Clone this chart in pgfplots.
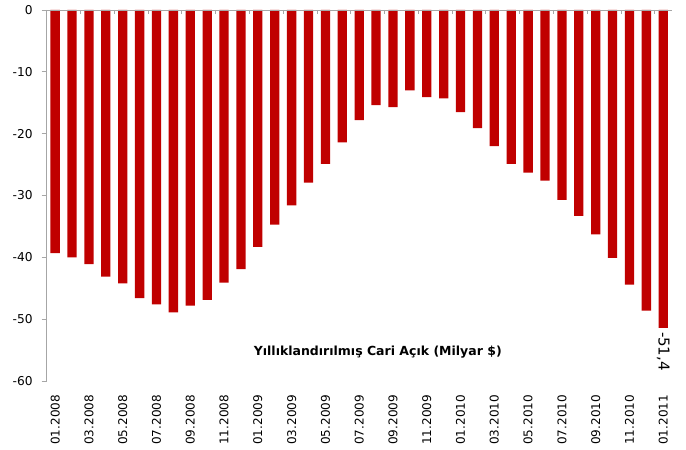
\documentclass[border=0pt]{standalone}
\usepackage{pgfplots}
\usepackage{pgfplotstable}
\pgfplotsset{compat=1.18}
\usepackage{fontspec}
\setmainfont{DejaVu Sans}
\definecolor{barred}{HTML}{C00000}
\definecolor{axgray}{HTML}{A6A6A6}
\pgfplotstableread{
x y lab
0 -39.3 {}
1 -40.0 {}
2 -41.1 {}
3 -43.1 {}
4 -44.2 {}
5 -46.6 {}
6 -47.6 {}
7 -48.9 {}
8 -47.8 {}
9 -46.9 {}
10 -44.1 {}
11 -41.9 {}
12 -38.3 {}
13 -34.7 {}
14 -31.6 {}
15 -27.9 {}
16 -24.9 {}
17 -21.4 {}
18 -17.8 {}
19 -15.4 {}
20 -15.7 {}
21 -13.0 {}
22 -14.1 {}
23 -14.3 {}
24 -16.5 {}
25 -19.1 {}
26 -22.0 {}
27 -24.9 {}
28 -26.3 {}
29 -27.6 {}
30 -30.7 {}
31 -33.3 {}
32 -36.3 {}
33 -40.1 {}
34 -44.4 {}
35 -48.6 {}
36 -51.4 {-51,4}
}\cadata
\pgfplotsset{
  common/.style={
    at={(0,0)}, anchor=south west,
    scale only axis, width=625pt, height=371pt,
    xmin=-0.5, xmax=36.5, ymin=-60, ymax=0,
    axis line style={draw=axgray, line width=0.8pt},
    tick style={draw=axgray, line width=0.8pt},
  }
}
\begin{document}
\begin{tikzpicture}[x=1pt,y=1pt]
\path[use as bounding box] (-46.7,-69) rectangle (639.3,381);
\begin{axis}[
  common,
  axis x line*=bottom, axis y line*=left,
  x axis line style={draw=none},
  tick align=outside,
  major tick length=5pt,
  xtick style={draw=none},
  xtick={0,2,...,36},
  xticklabels={01.2008,03.2008,05.2008,07.2008,09.2008,11.2008,01.2009,03.2009,05.2009,07.2009,09.2009,11.2009,01.2010,03.2010,05.2010,07.2010,09.2010,11.2010,01.2011},
  xticklabel style={rotate=90, anchor=east, font=\fontsize{12}{14}\selectfont},
  xticklabel shift=5.5pt,
  ytick={-60,-50,-40,-30,-20,-10,0},
  yticklabels={-60,-50,-40,-30,-20,-10,0},
  yticklabel style={font=\fontsize{12.2}{14}\selectfont},
  yticklabel shift=5.5pt,
  clip=false,
]
\addplot[ybar, bar width=9.3pt, fill=barred, draw=none,
  nodes near coords, point meta=explicit symbolic,
  every node near coord/.append style={rotate=-90, anchor=west, font=\fontsize{15}{17}\selectfont, text=black, inner sep=4pt}]
  table[x=x, y=y, meta=lab] {\cadata};
\node[font=\bfseries\fontsize{12.5}{15}\selectfont] at (axis cs:19.1,-55.3) {Yıllıklandırılmış Cari Açık (Milyar \$)};
\end{axis}
\begin{axis}[
  common,
  axis x line*=top, axis y line=none,
  tick align=inside,
  major tick length=4pt,
  xtick={-0.5,1.5,...,35.5},
  xticklabels={},
  ytick=\empty,
]
\end{axis}
\end{tikzpicture}
\end{document}
